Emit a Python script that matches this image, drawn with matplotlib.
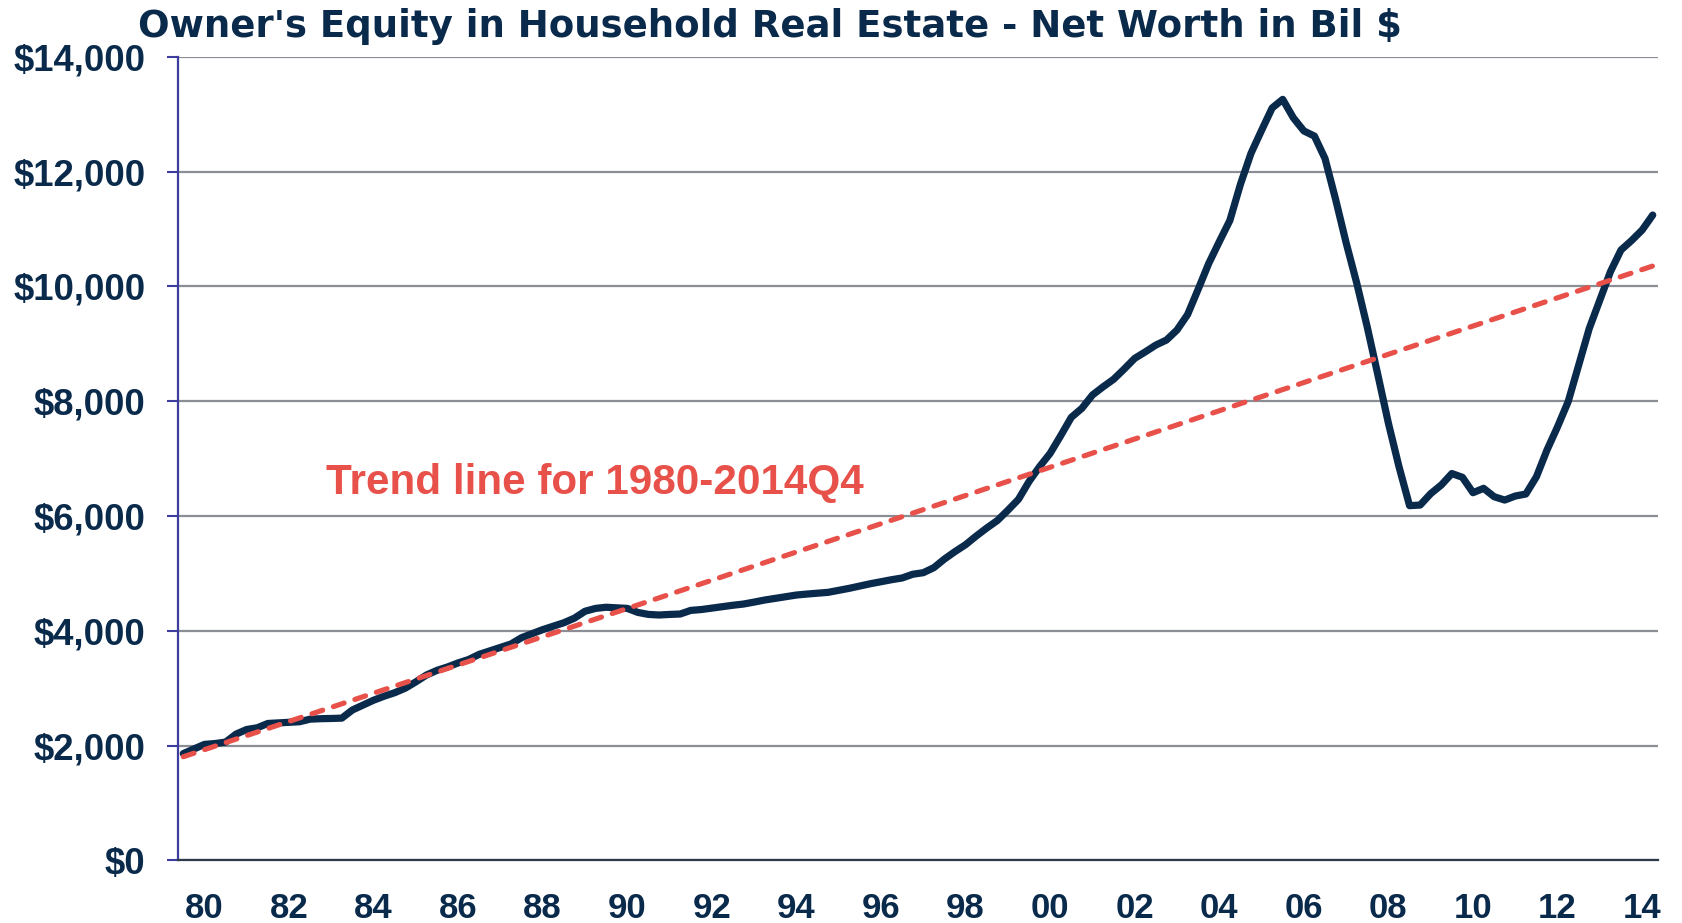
import numpy as np
import matplotlib
matplotlib.use("Agg")
import matplotlib.pyplot as plt
from matplotlib.ticker import FuncFormatter

# ---- data (quarterly, 1980Q1 .. 2014Q4, billions $) ----
start_year = 1980
end_year = 2014
equity = [
    1860, 1940, 2020, 2035, 2060, 2200, 2280, 2310, 2385, 2395,
    2405, 2415, 2460, 2468, 2472, 2478, 2620, 2705, 2790, 2860,
    2921, 3000, 3110, 3229, 3310, 3370, 3440, 3500, 3590, 3650,
    3710, 3770, 3880, 3950, 4020, 4080, 4140, 4220, 4340, 4390,
    4410, 4400, 4390, 4320, 4285, 4275, 4285, 4292, 4355, 4370,
    4395, 4420, 4445, 4466, 4500, 4536, 4565, 4595, 4623, 4640,
    4655, 4670, 4705, 4740, 4780, 4820, 4855, 4890, 4920, 4985,
    5012, 5100, 5250, 5380, 5500, 5650, 5790, 5920, 6100, 6290,
    6600, 6860, 7092, 7400, 7719, 7876, 8108, 8250, 8382, 8560,
    8747, 8860, 8979, 9066, 9241, 9510, 9950, 10400, 10780, 11150,
    11780, 12320, 12720, 13110, 13260, 12940, 12710, 12620, 12230, 11520,
    10760, 10060, 9290, 8460, 7615, 6859, 6180, 6191, 6390, 6540,
    6740, 6674, 6406, 6482, 6336, 6278, 6348, 6383, 6684, 7150,
    7556, 7991, 8631, 9270, 9763, 10257, 10635, 10800, 10983, 11244,
]
trend_start = 1805
trend_end = 10356
y_ticks = [0, 2000, 4000, 6000, 8000, 10000, 12000, 14000]
x_tick_years = list(range(1980, 2015, 2))
x_tick_labels = [f"{y % 100:02d}" for y in x_tick_years]

title = "Owner's Equity in Household Real Estate - Net Worth in Bil $"
trend_label = "Trend line for 1980-2014Q4"

# ---- styling ----
NAVY = "#0a2a4c"
RED = "#e8504a"
GRID = "#8b8e95"
SPINE_BLUE = "#3d3d9e"

fig = plt.figure(figsize=(16.82, 9.23), dpi=100)
ax = fig.add_axes([0.10583, 0.0679, 0.8799, 0.87045])

x = np.arange(len(equity))
ax.plot(x, equity, color=NAVY, lw=5.2, solid_joinstyle="round",
        solid_capstyle="round", zorder=3)

trend_x = [x[0], x[-1]]
trend_y = [trend_start, trend_end]
ax.plot(trend_x, trend_y, color=RED, lw=3.7, dashes=(2.2, 2.2),
        dash_capstyle="round", zorder=4)

ax.set_xlim(-0.5, len(equity) - 0.5)
ax.set_ylim(0, 14000)

ax.set_yticks(y_ticks)
ax.yaxis.set_major_formatter(FuncFormatter(lambda v, p: f"${v:,.0f}"))
ax.grid(axis="y", color=GRID, lw=1.6, zorder=1)
ax.set_axisbelow(True)

xt = [(yr - start_year) * 4 + 2 for yr in x_tick_years]
ax.set_xticks(xt)
ax.set_xticklabels(x_tick_labels)

for s in ["top", "right"]:
    ax.spines[s].set_visible(False)
ax.spines["left"].set_color(SPINE_BLUE)
ax.spines["left"].set_linewidth(1.6)
ax.spines["bottom"].set_color("#2e3a4a")
ax.spines["bottom"].set_linewidth(1.6)

ax.tick_params(axis="y", length=8, width=1.5, color=SPINE_BLUE, pad=15.5,
               labelcolor=NAVY, labelsize=26.3)
ax.tick_params(axis="x", length=0, pad=22.5, labelcolor=NAVY, labelsize=25)
for lab in ax.get_yticklabels() + ax.get_xticklabels():
    lab.set_fontfamily(["Liberation Sans", "DejaVu Sans"])
    lab.set_fontweight("bold")

ax.text(0.1, 0.4696, trend_label, transform=ax.transAxes, ha="left",
        va="center", color=RED, fontsize=30.4, fontweight="bold",
        family=["Liberation Sans", "DejaVu Sans"])

fig.text(0.458, 0.9594, title, ha="center", va="baseline", color=NAVY,
         fontsize=26.7, fontweight="bold", family=["DejaVu Sans"])

fig.savefig("out.png", dpi=100, facecolor="white")
